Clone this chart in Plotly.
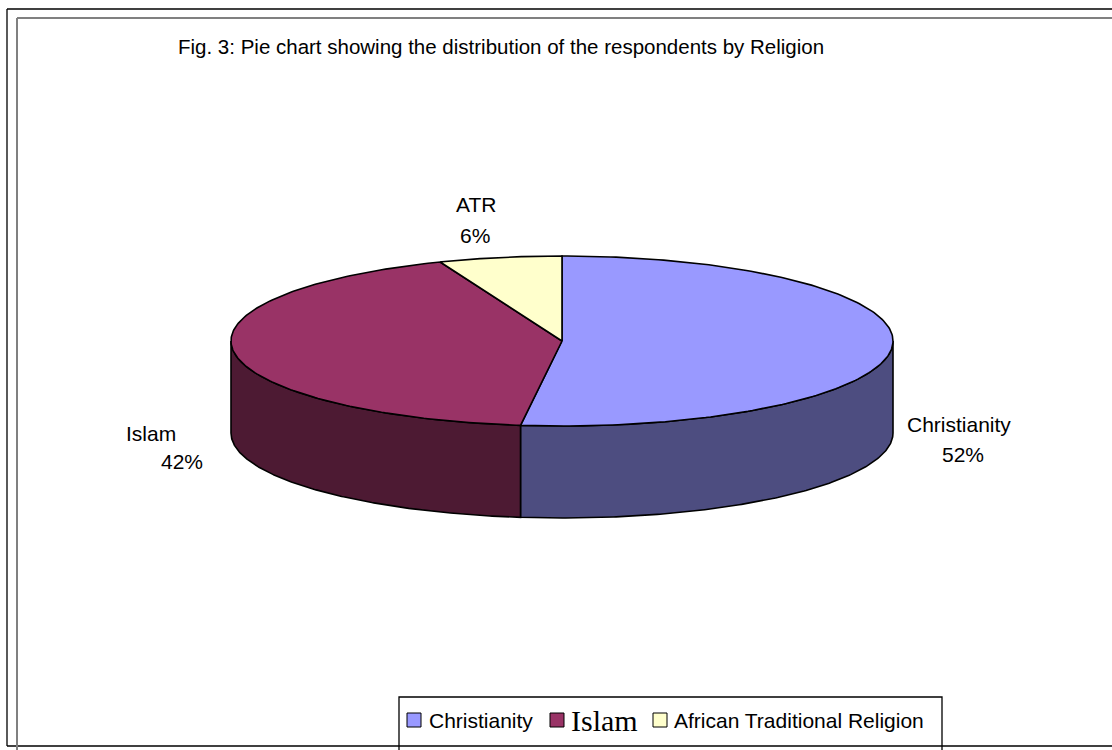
import numpy as np
import plotly.graph_objects as go

categories = ["Christianity", "Islam", "ATR"]
legend_names = ["Christianity", "Islam", "African Traditional Religion"]
values = [52, 42, 6]
top_colors = ["#9999FF", "#993366", "#FFFFCC"]
side_colors = ["#4D4D80", "#4D1A33", "#80806A"]
title_text = "Fig. 3: Pie chart showing the distribution of the respondents by Religion"

# label anchor positions (pixels): name line and percent line
label_name_pos = [(959, 424), (151, 433), (476, 204)]
label_pct_pos = [(963, 454), (182, 461), (475, 235)]
legend_sq_x = [407, 550, 653]
legend_txt_x = [427, 569, 672]
LEG_Y = 720

W, H = 1112, 750
CX, CY, RX, RY, DEPTH = 562, 341, 331, 85, 92
FONT = "Liberation Sans, Arial, sans-serif"


def arc(a0, a1, dy=0.0, n=200):
    t = np.radians(np.linspace(a0, a1, n))
    return CX + RX * np.sin(t), CY - RY * np.cos(t) + dy


total = float(sum(values))
bounds = np.concatenate([[0.0], np.cumsum(values) / total * 360.0])

fig = go.Figure()

# side walls (visible front half: 90..270 deg clockwise from top)
for i, cat in enumerate(categories):
    a0, a1 = bounds[i], bounds[i + 1]
    lo, hi = max(a0, 90.0), min(a1, 270.0)
    if hi <= lo:
        continue
    xt, yt = arc(lo, hi)
    xb, yb = arc(hi, lo, DEPTH)
    xs = np.concatenate([xt, xb, xt[:1]])
    ys = np.concatenate([yt, yb, yt[:1]])
    fig.add_trace(go.Scatter(x=xs, y=ys, mode="lines", fill="toself",
                             fillcolor=side_colors[i],
                             line=dict(color="black", width=1.6),
                             hoverinfo="skip", showlegend=False))

# top faces
for i, cat in enumerate(categories):
    a0, a1 = bounds[i], bounds[i + 1]
    xa, ya = arc(a0, a1)
    xs = np.concatenate([[CX], xa, [CX]])
    ys = np.concatenate([[CY], ya, [CY]])
    fig.add_trace(go.Scatter(x=xs, y=ys, mode="lines", fill="toself",
                             fillcolor=top_colors[i],
                             line=dict(color="black", width=1.6),
                             name=cat, hoverinfo="name", showlegend=False))

annotations = []
for i, cat in enumerate(categories):
    pct = int(round(values[i] / total * 100))
    (nx, ny), (px, py) = label_name_pos[i], label_pct_pos[i]
    annotations.append(dict(x=nx, y=ny, text=cat, showarrow=False,
                            xanchor="center", yanchor="middle",
                            font=dict(family=FONT, size=21, color="black")))
    annotations.append(dict(x=px, y=py, text=f"{pct}%", showarrow=False,
                            xanchor="center", yanchor="middle",
                            font=dict(family=FONT, size=21, color="black")))

annotations.append(dict(x=176, y=46, text=title_text, showarrow=False,
                        xanchor="left", yanchor="middle",
                        font=dict(family=FONT, size=20.5, color="black")))

shapes = []
# legend box
shapes.append(dict(type="rect", x0=399, y0=697, x1=942, y1=770,
                   line=dict(color="black", width=1.3), fillcolor="white",
                   layer="below"))
for i, nm in enumerate(legend_names):
    sx = legend_sq_x[i]
    shapes.append(dict(type="rect", x0=sx, y0=LEG_Y - 7, x1=sx + 14, y1=LEG_Y + 7,
                       line=dict(color="black", width=1), fillcolor=top_colors[i]))
    if nm == "Islam":
        f = dict(family="Liberation Serif, Times New Roman, serif", size=30, color="black")
    else:
        f = dict(family=FONT, size=21, color="black")
    annotations.append(dict(x=legend_txt_x[i], y=LEG_Y, text=nm, showarrow=False,
                            xanchor="left", yanchor="middle", font=f))

# frame lines
shapes += [
    dict(type="line", x0=7, y0=9, x1=W, y1=9, line=dict(color="black", width=1.3)),
    dict(type="line", x0=7, y0=9, x1=7, y1=746, line=dict(color="black", width=1.3)),
    dict(type="line", x0=7, y0=746, x1=W, y1=746, line=dict(color="black", width=1.3)),
    dict(type="line", x0=17, y0=18, x1=W, y1=18, line=dict(color="#808080", width=2)),
    dict(type="line", x0=17, y0=18, x1=17, y1=H, line=dict(color="#808080", width=2)),
]

fig.update_layout(
    width=W, height=H,
    margin=dict(l=0, r=0, t=0, b=0),
    paper_bgcolor="white", plot_bgcolor="white",
    xaxis=dict(range=[0, W], visible=False, fixedrange=True),
    yaxis=dict(range=[H, 0], visible=False, fixedrange=True),
    annotations=annotations, shapes=shapes, showlegend=False,
)

fig.write_html("out.html",
               config={"displayModeBar": False},
               post_script="document.body.style.margin='0px';document.body.style.overflow='hidden';")
